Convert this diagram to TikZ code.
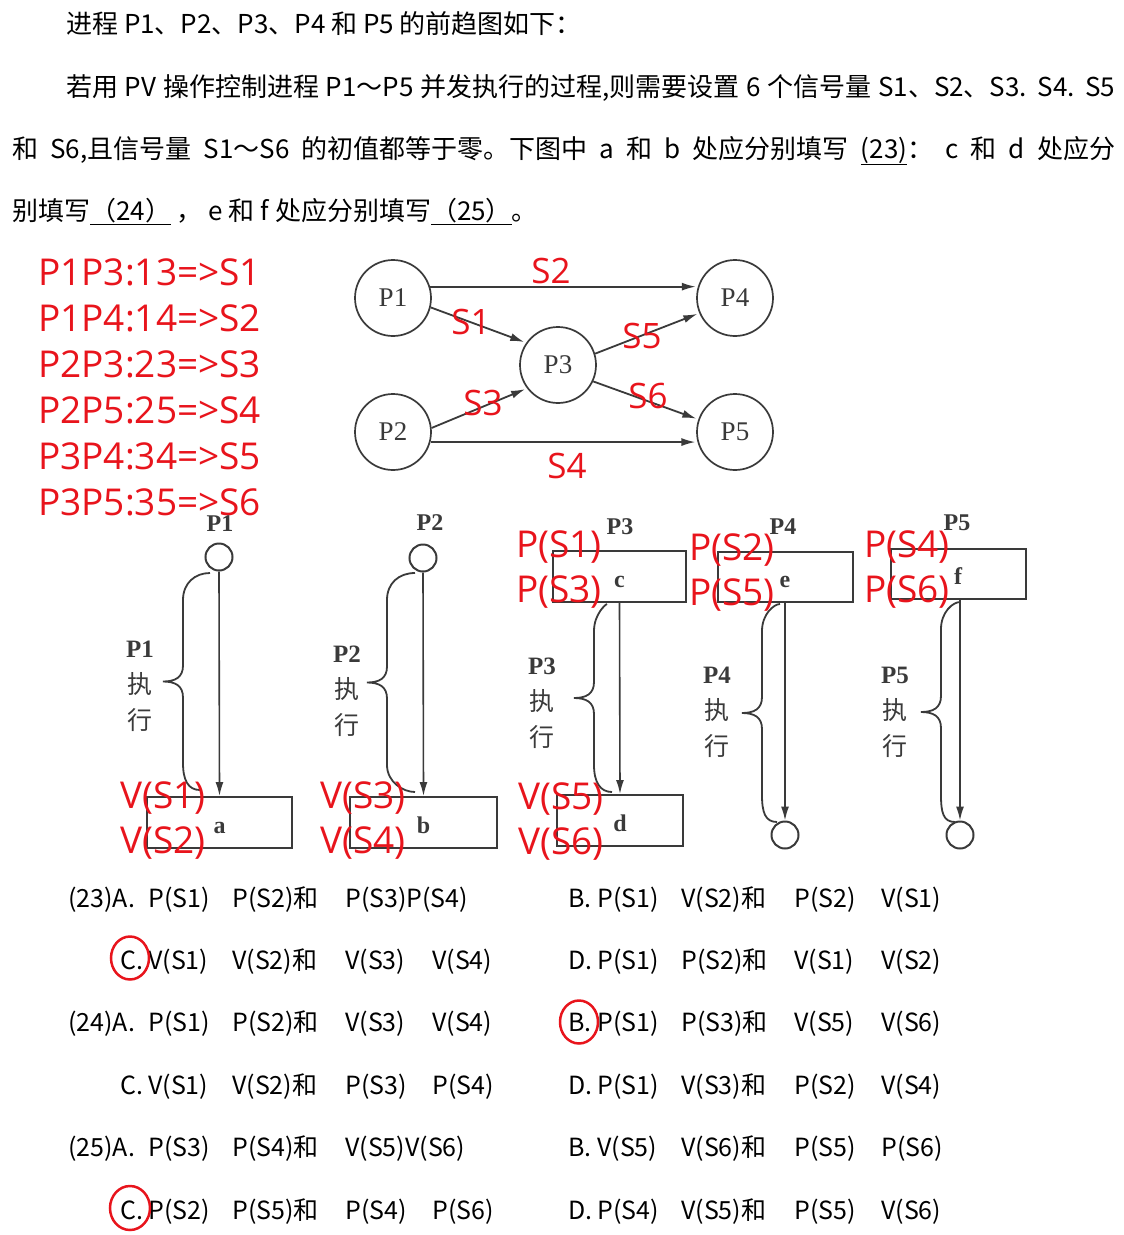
\documentclass[tikz,border=0pt]{standalone}
\usepackage{fontspec}
\setmainfont{Noto Sans CJK SC}
\newfontfamily\serifl{Liberation Serif}
\newfontfamily\redfont{Open Sans}
\usetikzlibrary{arrows.meta, shapes.geometric}
\definecolor{markred}{HTML}{E8141C}
\definecolor{scangrey}{HTML}{3A3A3A}
\XeTeXlinebreaklocale "zh"
\XeTeXlinebreakskip=0pt plus 4pt

\newcommand{\optrow}[4]{\makebox[84pt][l]{#1}\makebox[113pt][l]{#2}\makebox[87pt][l]{#3}#4}

\begin{document}
\begin{tikzpicture}[
    x=1pt, y=-1pt,
    >={Latex[length=14pt,width=8pt]},
    txt/.style={anchor=base west, inner sep=0pt, font=\fontsize{26}{30}\selectfont},
    opt/.style={anchor=base west, inner sep=0pt, font=\fontsize{25}{30}\selectfont},
    proc/.style={circle, draw=scangrey, line width=1.7pt, minimum size=76pt, inner sep=0pt, text=scangrey, font=\serifl\fontsize{27}{27}\selectfont},
    prec/.style={->, draw=scangrey, line width=1.8pt, shorten >=2pt},
    redlab/.style={text=markred, inner sep=0pt, align=left, font=\redfont\fontsize{35}{44}\selectfont},
    redbig/.style={redlab, font=\redfont\fontsize{37}{45}\selectfont},
    pbox/.style={draw=scangrey, line width=2pt, minimum height=51pt, inner sep=0pt, text height=21pt, text depth=0pt, text=scangrey, font=\serifl\bfseries\fontsize{24}{24}\selectfont},
    endcirc/.style={circle, draw=scangrey, line width=2pt, minimum size=27pt, inner sep=0pt},
    flow/.style={->, draw=scangrey, line width=1.6pt},
    bracepath/.style={draw=scangrey, line width=1.8pt},
    ptitle/.style={text=scangrey, inner sep=0pt, font=\serifl\bfseries\fontsize{24}{24}\selectfont},
    execlab/.style={align=center, text=scangrey, inner sep=0pt, font=\fontsize{25}{36}\selectfont},
    pick/.style={ellipse, draw=markred, line width=2.5pt, inner sep=0pt},
]

% brace beside an execution line: vertical x, top end x/y, bottom end x/y
\newcommand{\execbrace}[5]{%
    \pgfmathsetmacro{\ym}{(#3+#5)/2}
    \draw[bracepath] (#2,#3) .. controls (#1+12,#3) and (#1,#3+10) .. (#1,#3+27)
        -- (#1,\ym-16) .. controls (#1,\ym-4) and (#1-8,\ym) .. (#1-20,\ym)
        .. controls (#1-8,\ym) and (#1,\ym+4) .. (#1,\ym+16)
        -- (#1,#5-27) .. controls (#1,#5-10) and (#4-12,#5) .. (#4,#5);
}

\useasboundingbox (0,0) rectangle (1124,1235);

% ================= QUESTION TEXT =================
\node[txt] (l1) at (66,33) {进程 P1、P2、P3、P4 和 P5 的前趋图如下：};
\node[txt] (l2) at (66,96) {\makebox[1049pt][s]{若用 PV 操作控制进程 P1～P5 并发执行的过程,则需要设置 6 个信号量 S1、S2、S3. S4. S5}};
\node[txt] (l3) at (12,158) {\makebox[1103pt][s]{和 S6,且信号量 S1～S6 的初值都等于零。下图中 a 和 b 处应分别填写 \underline{(23)}： c 和 d 处应分}};
\node[txt] (l4) at (12,220) {别填写\underline{（24）} ， e 和 f 处应分别填写\underline{（25）}。};

% ================= RULES (red) =================
\node[redbig, anchor=west, font=\redfont\fontsize{37}{46}\selectfont] (rules) at (38,387) {P1P3:13=>S1\\P1P4:14=>S2\\P2P3:23=>S3\\P2P5:25=>S4\\P3P4:34=>S5\\P3P5:35=>S6};

% ================= PRECEDENCE GRAPH =================
\node[proc] (P1) at (393,298) {P1};
\node[proc] (P3) at (558,365) {P3};
\node[proc] (P4) at (735,298) {P4};
\node[proc] (P2) at (393,432) {P2};
\node[proc] (P5) at (735,432) {P5};
\draw[prec] (P1.17) -- (P4.163);
\draw[prec] (P1.-14) -- (P3.145);
\draw[prec] (P2.6) -- (P3.217);
\draw[prec] (P2.-15) -- (P5.195);
\draw[prec] (P3.17) -- (P4.203);
\draw[prec] (P3.-25) -- (P5.161);
\node[redlab] (eS2) at (551,271) {S2};
\node[redlab] (eS1) at (471,322) {S1};
\node[redlab] (eS5) at (642,336) {S5};
\node[redlab] (eS3) at (483,403) {S3};
\node[redlab] (eS6) at (648,396) {S6};
\node[redlab] (eS4) at (567,466) {S4};

% ================= PROCESS P1..P5 =================
\node[ptitle] (t1) at (220,524) {P1};
\node[ptitle] (t2) at (430,523) {P2};
\node[ptitle] (t3) at (620,527) {P3};
\node[ptitle] (t4) at (783,527) {P4};
\node[ptitle] (t5) at (957,523) {P5};

\node[endcirc] (st1) at (219,557) {};
\node[endcirc] (st2) at (423,558) {};
\node[pbox, minimum width=145pt] (ba) at (219.5,822.5) {a};
\node[pbox, minimum width=147pt] (bb) at (423.5,822.5) {b};
\node[pbox, minimum width=133pt] (bc) at (619.5,576.5) {c};
\node[pbox, minimum width=126pt] (bd) at (620,820.5) {d};
\node[pbox, minimum width=135pt, minimum height=50pt] (be) at (785,577) {e};
\node[pbox, minimum width=135pt, minimum height=50pt] (bf) at (958,574) {f};
\node[endcirc] (en4) at (785,835) {};
\node[endcirc] (en5) at (960,835) {};

\draw[flow] (st1.south) -- (ba.north);
\draw[flow] (st2.south) -- (bb.north);
\draw[flow] (bc.south) -- (bd.north);
\draw[flow] (be.south) -- (en4.north);
\draw[flow] (bf.south -| en5.north) -- (en5.north);

\execbrace{183}{210}{573}{200}{790}
\execbrace{387}{415}{573}{415}{792}
\execbrace{594}{607}{604}{612}{792}
\execbrace{762}{780}{604}{777}{822}
\execbrace{941}{960}{602}{955}{822}

\node[execlab] (x1) at (140,686) {{\serifl\bfseries P1}\\执\\行};
\node[execlab] (x2) at (347,691) {{\serifl\bfseries P2}\\执\\行};
\node[execlab] (x3) at (542,703) {{\serifl\bfseries P3}\\执\\行};
\node[execlab] (x4) at (717,712) {{\serifl\bfseries P4}\\执\\行};
\node[execlab] (x5) at (895,712) {{\serifl\bfseries P5}\\执\\行};

\node[redbig, anchor=west] (v12) at (120,821) {V(S1)\\V(S2)};
\node[redbig, anchor=west] (v34) at (320,821) {V(S3)\\V(S4)};
\node[redbig, anchor=west] (v56) at (518,822) {V(S5)\\V(S6)};
\node[redbig, anchor=west] (p13) at (516,570) {P(S1)\\P(S3)};
\node[redbig, anchor=west] (p25) at (689,573) {P(S2)\\P(S5)};
\node[redbig, anchor=west] (p46) at (864,570) {P(S4)\\P(S6)};

% ================= OPTIONS =================
\node[opt] (q23a) at (68,907) {\makebox[80pt][l]{(23)A.}\optrow{P(S1)}{P(S2)和}{P(S3)P(S4)}{}};
\node[opt] (q23b) at (568,907) {\makebox[29pt][l]{B.}\optrow{P(S1)}{V(S2)和}{P(S2)}{V(S1)}};
\node[opt] (q23c) at (120,969) {\makebox[28pt][l]{C.}\optrow{V(S1)}{V(S2)和}{V(S3)}{V(S4)}};
\node[opt] (q23d) at (568,969) {\makebox[29pt][l]{D.}\optrow{P(S1)}{P(S2)和}{V(S1)}{V(S2)}};
\node[opt] (q24a) at (68,1031) {\makebox[80pt][l]{(24)A.}\optrow{P(S1)}{P(S2)和}{V(S3)}{V(S4)}};
\node[opt] (q24b) at (568,1031) {\makebox[29pt][l]{B.}\optrow{P(S1)}{P(S3)和}{V(S5)}{V(S6)}};
\node[opt] (q24c) at (120,1094) {\makebox[28pt][l]{C.}\optrow{V(S1)}{V(S2)和}{P(S3)}{P(S4)}};
\node[opt] (q24d) at (568,1094) {\makebox[29pt][l]{D.}\optrow{P(S1)}{V(S3)和}{P(S2)}{V(S4)}};
\node[opt] (q25a) at (68,1156) {\makebox[80pt][l]{(25)A.}\optrow{P(S3)}{P(S4)和}{V(S5)V(S6)}{}};
\node[opt] (q25b) at (568,1156) {\makebox[29pt][l]{B.}\optrow{V(S5)}{V(S6)和}{P(S5)}{P(S6)}};
\node[opt] (q25c) at (120,1219) {\makebox[28pt][l]{C.}\optrow{P(S2)}{P(S5)和}{P(S4)}{P(S6)}};
\node[opt] (q25d) at (568,1219) {\makebox[29pt][l]{D.}\optrow{P(S4)}{V(S5)和}{P(S5)}{V(S6)}};

\node[pick, minimum width=38pt, minimum height=43pt] (pk23) at (130,958) {};
\node[pick, minimum width=38pt, minimum height=43pt] (pk24) at (579,1022) {};
\node[pick, minimum width=40pt, minimum height=44pt] (pk25) at (130,1208) {};

\end{tikzpicture}
\end{document}
